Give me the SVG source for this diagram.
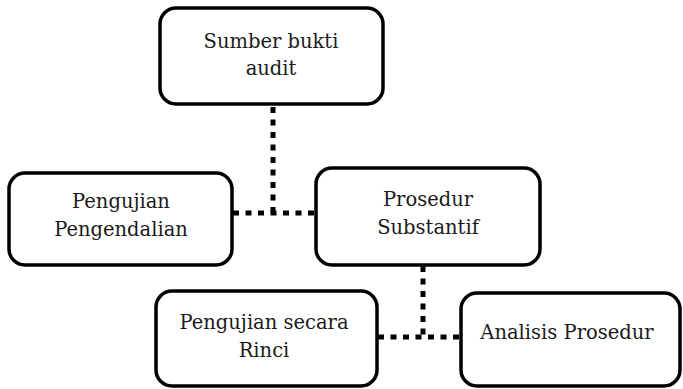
<svg xmlns="http://www.w3.org/2000/svg" width="683" height="389" viewBox="0 0 683 389">
<style>
.box{fill:#fff;stroke:#000;stroke-width:3.5}
.t{font-family:"DejaVu Serif","Liberation Serif",serif;font-size:19.5px;fill:#1a1a1a;text-anchor:middle}
.c{fill:none;stroke:#000;stroke-width:5;stroke-dasharray:6 6.5}
</style>
<rect width="683" height="389" fill="#fff"/>
<g id="connectors">
<path class="c" d="M273 107 V213"/>
<path class="c" d="M233 213 H316"/>
<path class="c" d="M423 266 V336"/>
<path class="c" d="M378 337 H461"/>
</g>
<g id="n1"><rect class="box" x="160" y="8" width="223" height="96" rx="16"/>
<text class="t" x="271" y="48">Sumber bukti</text><text class="t" x="271" y="75">audit</text></g>
<g id="n2"><rect class="box" x="9" y="173" width="223" height="92" rx="16"/>
<text class="t" x="121" y="208">Pengujian</text><text class="t" x="121" y="236">Pengendalian</text></g>
<g id="n3"><rect class="box" x="316" y="168" width="224" height="97" rx="16"/>
<text class="t" x="428" y="206">Prosedur</text><text class="t" x="428" y="234">Substantif</text></g>
<g id="n4"><rect class="box" x="156" y="291" width="221" height="95" rx="16"/>
<text class="t" x="264" y="329">Pengujian secara</text><text class="t" x="264" y="357">Rinci</text></g>
<g id="n5"><rect class="box" x="461" y="293" width="219" height="93" rx="16"/>
<text class="t" x="567" y="339">Analisis Prosedur</text></g>
</svg>
